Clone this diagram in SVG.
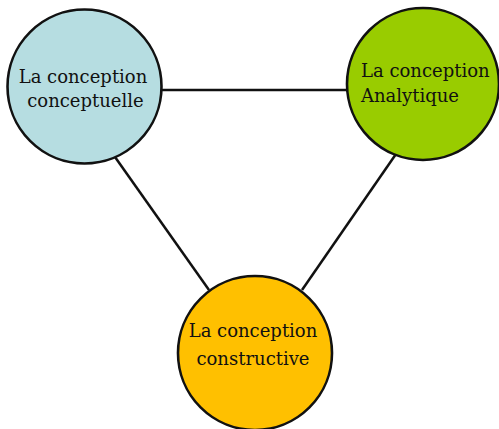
<svg xmlns="http://www.w3.org/2000/svg" width="499" height="429" viewBox="0 0 499 429">
<style>
.node{stroke:#111;stroke-width:2.6}
.conn{stroke:#111;stroke-width:2.5;fill:none}
text{font-family:"DejaVu Serif","Liberation Serif",serif;font-size:18px;fill:#111}
</style>
<rect width="499" height="429" fill="#fff"/>
<g id="connectors">
<line class="conn" x1="161" y1="90" x2="348" y2="90"/>
<line class="conn" x1="115" y1="157" x2="209" y2="290"/>
<line class="conn" x1="396" y1="154" x2="302" y2="290"/>
</g>
<g id="node-conceptuelle">
<circle class="node" cx="84.5" cy="86.5" r="77" fill="#b6dde1"/>
<text x="83" y="83" text-anchor="middle">La conception</text>
<text x="85.5" y="107" text-anchor="middle">conceptuelle</text>
</g>
<g id="node-analytique">
<circle class="node" cx="423" cy="84" r="76" fill="#99cc00"/>
<text x="361" y="77">La conception</text>
<text x="361" y="102">Analytique</text>
</g>
<g id="node-constructive">
<circle class="node" cx="255" cy="353" r="77" fill="#ffc000"/>
<text x="253" y="337" text-anchor="middle">La conception</text>
<text x="253" y="365" text-anchor="middle">constructive</text>
</g>
</svg>
